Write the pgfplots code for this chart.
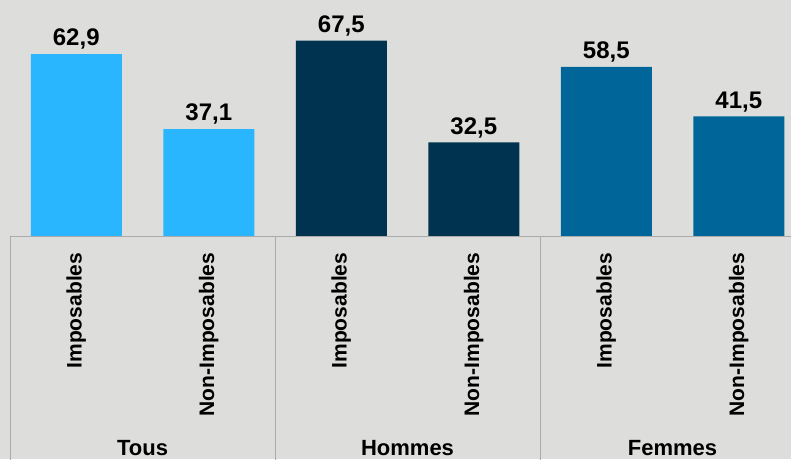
\documentclass[border=0pt]{standalone}
\usepackage{fontspec}
\setmainfont{Liberation Sans}
\usepackage{pgfplots}
\pgfplotsset{compat=1.18}

\definecolor{bg}{HTML}{DDDDDB}
\definecolor{tous}{HTML}{29B6FE}
\definecolor{hommes}{HTML}{00334F}
\definecolor{femmes}{HTML}{006699}
\definecolor{sep}{HTML}{ABABAB}

\newcommand{\catlab}[2]{%
  \node[rotate=90, anchor=east, inner sep=0pt, font=\fontsize{21}{25}\selectfont\bfseries]
    at (axis cs:#1,-5.4) {#2};}
\newcommand{\grplab}[2]{%
  \node[anchor=north, inner sep=0pt, font=\fontsize{22}{26}\selectfont\bfseries]
    at (axis cs:#1,-69.8) {#2};}

\begin{document}
\begin{tikzpicture}
  \begin{axis}[
      width=791pt, height=459pt,
      scale only axis,
      xmin=-0.5755, xmax=5.394,
      ymin=-76.4, ymax=81.5,
      axis line style={draw=none},
      xtick=\empty, ytick=\empty,
      axis background/.style={fill=bg},
      clip=false,
      ybar,
      bar width=91pt,
      nodes near coords,
      every node near coord/.append style={font=\fontsize{24}{28}\selectfont\bfseries, text=black, yshift=1pt},
      /pgf/number format/.cd, use comma, fixed, fixed zerofill, precision=1, assume math mode=true,
    ]
    % Tous
    \addplot[draw=none, fill=tous, bar shift=0pt] coordinates {(0,62.9) (1,37.1)};
    % Hommes
    \addplot[draw=none, fill=hommes, bar shift=0pt] coordinates {(2,67.5) (3,32.5)};
    % Femmes
    \addplot[draw=none, fill=femmes, bar shift=0pt] coordinates {(4,58.5) (5,41.5)};

    % axis line and group separators
    \draw[sep, line width=1pt] (axis cs:-0.5,0) -- (axis cs:5.5,0);
    \draw[sep, line width=1pt] (axis cs:-0.5,0) -- (axis cs:-0.5,-80);
    \draw[sep, line width=1pt] (axis cs:1.5,0) -- (axis cs:1.5,-80);
    \draw[sep, line width=1pt] (axis cs:3.5,0) -- (axis cs:3.5,-80);

    % category labels
    \catlab{0}{Imposables}
    \catlab{1}{Non-Imposables}
    \catlab{2}{Imposables}
    \catlab{3}{Non-Imposables}
    \catlab{4}{Imposables}
    \catlab{5}{Non-Imposables}
    \grplab{0.5}{Tous}
    \grplab{2.5}{Hommes}
    \grplab{4.5}{Femmes}

    \coordinate (sw) at (rel axis cs:0,0);
    \coordinate (ne) at (rel axis cs:1,1);
  \end{axis}
  \pgfresetboundingbox
  \path (sw) rectangle (ne);
\end{tikzpicture}
\end{document}
